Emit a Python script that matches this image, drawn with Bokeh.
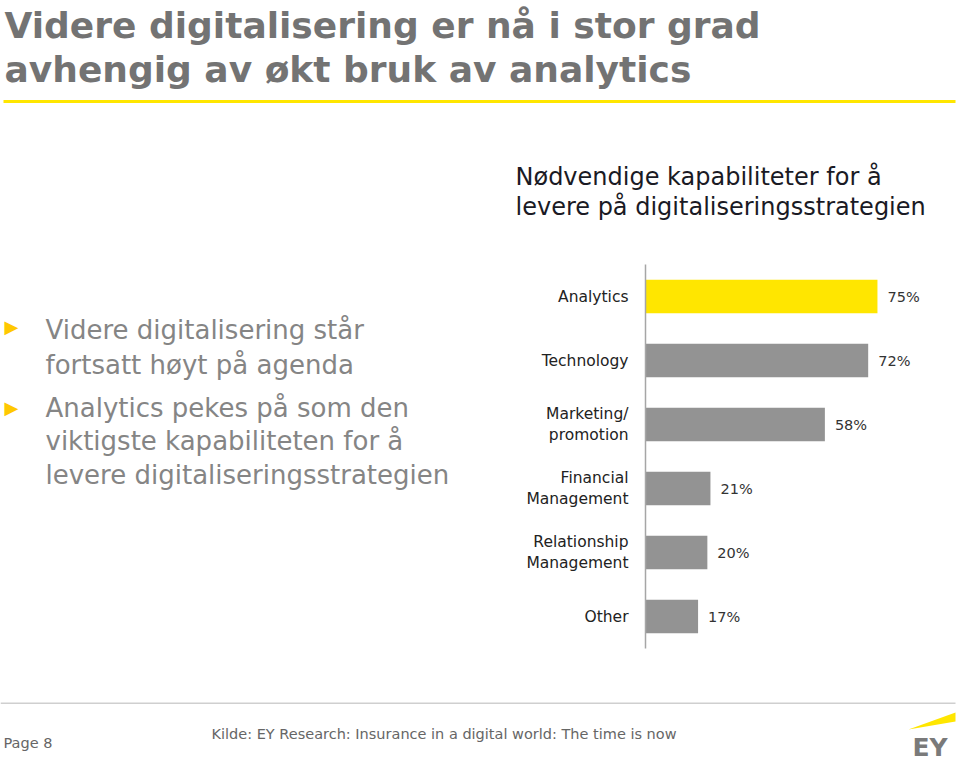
from bokeh.plotting import figure
from bokeh.models import Range1d
from bokeh.core.properties import value
from bokeh.embed import file_html
from bokeh.resources import INLINE

# ---- data ----
title_lines = ["Videre digitalisering er nå i stor grad",
               "avhengig av økt bruk av analytics"]
subtitle_lines = ["Nødvendige kapabiliteter for å",
                  "levere på digitaliseringsstrategien"]
bullet1_lines = ["Videre digitalisering står", "fortsatt høyt på agenda"]
bullet2_lines = ["Analytics pekes på som den",
                 "viktigste kapabiliteten for å",
                 "levere digitaliseringsstrategien"]
categories = ["Analytics", "Technology", "Marketing/\npromotion",
              "Financial\nManagement", "Relationship\nManagement", "Other"]
values_pct = [75, 72, 58, 21, 20, 17]
value_labels = ["75%", "72%", "58%", "21%", "20%", "17%"]
bar_colors = ["#FFE600", "#939393", "#939393", "#939393", "#939393", "#939393"]
source_text = "Kilde: EY Research: Insurance in a digital world: The time is now"
page_text = "Page 8"
logo_text = "EY"

# ---- layout (page pixels) ----
PAGE_W, PAGE_H = 960, 762
CH_LEFT, CH_RIGHT, X_MAX = 645, 945, 97      # pixel of 0 % and of X_MAX %
ROW0, ROW_H = 296, 64                         # centre of first row, row pitch
FONT = "DejaVu Sans"
BASE_FIX = 0.29                               # baseline correction (em)

ppp = (CH_RIGHT - CH_LEFT) / X_MAX
pct_range = Range1d(start=-CH_LEFT / ppp, end=(PAGE_W - CH_LEFT) / ppp)
row_range = Range1d(start=(PAGE_H - ROW0) / ROW_H, end=-ROW0 / ROW_H)

p = figure(width=PAGE_W, height=PAGE_H, output_backend="svg", toolbar_location=None,
           x_range=Range1d(0, PAGE_W), y_range=Range1d(PAGE_H, 0),
           x_axis_location=None, y_axis_location=None, min_border=0)
p.extra_x_ranges = {"pct": pct_range}
p.extra_y_ranges = {"rows": row_range}
p.outline_line_color = None
p.grid.visible = False
p.background_fill_color = "white"
p.border_fill_color = "white"

# ---- bar chart ----
rows = list(range(len(categories)))
p.hbar(y=rows, left=0, right=values_pct, height=0.52, fill_color=bar_colors,
       line_color=None, x_range_name="pct", y_range_name="rows")
p.segment(x0=[0], x1=[0], y0=[-0.5], y1=[len(categories) - 0.5], line_color="#a6a6a6",
          line_width=1.5, x_range_name="pct", y_range_name="rows")
p.text(x=[0] * len(categories), y=rows, text=categories, x_offset=-17,
       text_align="right", text_baseline="middle", text_line_height=1.2,
       text_font=value(FONT), text_font_size="15.5px", text_color="#222222",
       x_range_name="pct", y_range_name="rows")
p.text(x=values_pct, y=rows, text=value_labels, x_offset=10, text_baseline="middle",
       text_font=value(FONT), text_font_size="14.5px", text_color="#333333",
       x_range_name="pct", y_range_name="rows")


def txt(px, py, text, size, color, bold=False, align="left", baseline="alphabetic"):
    fs = float(size.replace("px", ""))
    y = py - BASE_FIX * fs if baseline == "alphabetic" else py
    p.text(x=[px], y=[y], text=[text], text_font=value(FONT), text_font_size=size,
           text_color=color, text_font_style=value("bold" if bold else "normal"),
           text_align=align, text_baseline=baseline)


# title
for t, by in zip(title_lines, [35, 79]):
    txt(4, by, t, "36px", "#737373", bold=True)
p.quad(left=[3], right=[955], top=[99.5], bottom=[102.5], fill_color="#FFE600", line_color=None)

# subtitle
for t, by in zip(subtitle_lines, [183, 213]):
    txt(515, by, t, "24px", "#1a1a24")

# bullets
for t, by in zip(bullet1_lines + bullet2_lines, [337, 372, 415, 448, 482]):
    txt(45, by, t, "26px", "#858585")
txt(4, 326, "▶", "18px", "#FFC800", baseline="middle")
txt(4, 407, "▶", "18px", "#FFC800", baseline="middle")

# footer
p.quad(left=[0], right=[955], top=[702], bottom=[703.5], fill_color="#cfcfcf", line_color=None)
txt(3, 747, page_text, "14.5px", "#666666")
txt(211, 738, source_text, "14.5px", "#666666")
p.patch(x=[908, 955, 955], y=[729, 712, 721], fill_color="#FFE600", line_color=None)
txt(912, 754, logo_text, "25px", "#7a7a7a", bold=True)

open("out.html", "w").write(file_html(p, INLINE))
